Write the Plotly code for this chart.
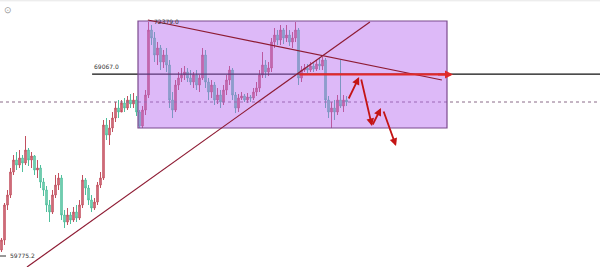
import plotly.graph_objects as go

# ---- data (prices) ----
opens = [60270, 60770, 62520, 63020, 64170, 64770, 64520, 64870, 64620, 65270,
         64770, 64970, 64270, 64370, 63670, 63270, 62520, 62170, 63020, 63520,
         63870, 62020, 61670, 62020, 61770, 62170, 61870, 62520, 63770, 63370,
         62770, 62370, 62670, 63520, 63870, 66520, 66020, 66370, 66870, 67370,
         67170, 67620, 67370, 67770, 67570, 67770, 67170, 66470, 67270, 68020,
         71270, 70870, 70020, 70370, 69670, 70020, 69520, 67770, 67270, 68520,
         68870, 69020, 69170, 68870, 68670, 69020, 68520, 68870, 70020, 68670,
         68170, 68520, 67770, 68020, 67670, 68270, 68770, 69270, 68020, 67370,
         67870, 67970, 67770, 67920, 67870, 68170, 68370, 69020, 69520, 69170,
         69370, 70670, 71020, 70770, 71270, 70870, 71020, 70670, 70870, 71270,
         68870, 69270, 69370, 69270, 69470, 69320, 69570, 69470, 69770, 67770,
         67170, 67370, 67170, 67770, 67470, 67770]
highs = [60870, 62620, 63270, 64370, 65020, 65170, 65270, 65020, 65970, 65370,
         65170, 65020, 64770, 64520, 63870, 63470, 62770, 63270, 64020, 64120,
         64020, 62270, 62370, 62170, 62420, 62520, 62770, 64020, 63870, 63520,
         63020, 62870, 63670, 64170, 66770, 66870, 66770, 67170, 67670, 67770,
         67770, 67870, 67970, 68070, 68120, 67970, 67270, 67470, 68270, 71670,
         71520, 71170, 70670, 70520, 70270, 70370, 69770, 68170, 68770, 69170,
         69370, 69470, 69370, 69270, 69170, 69270, 69020, 70370, 70270, 68870,
         68770, 68670, 68370, 68270, 68520, 69020, 69470, 69370, 68170, 68070,
         68170, 68070, 68120, 68020, 68370, 68670, 69270, 70170, 69770, 69670,
         70870, 71370, 71270, 71520, 71370, 71520, 71270, 71170, 71670, 71370,
         69470, 69570, 69570, 69670, 69620, 69770, 69870, 69920, 69870, 67970,
         67670, 67770, 68020, 69770, 68020, 67970]
lows = [60170, 60520, 62270, 62870, 64020, 64270, 64370, 64170, 64520, 64470,
        64370, 64020, 63870, 63370, 62970, 62170, 61670, 62070, 62870, 63270,
        61770, 61370, 61520, 61570, 61670, 61670, 61770, 62370, 63020, 62520,
        62170, 62270, 62520, 63370, 63770, 65770, 65520, 66170, 66670, 66870,
        67270, 67170, 67270, 67370, 67370, 66970, 66370, 66370, 67020, 67870,
        70520, 69670, 69520, 69270, 69370, 69170, 67370, 66870, 67170, 68270,
        68670, 68770, 68670, 68520, 68370, 68270, 68170, 68770, 68370, 67770,
        67870, 67520, 67570, 67370, 67520, 68020, 68520, 67770, 67120, 67170,
        67770, 67670, 67620, 67670, 67770, 67970, 68170, 68870, 68870, 68970,
        69170, 70370, 70520, 70520, 70570, 70670, 70470, 70370, 70670, 68520,
        68670, 69170, 69120, 69170, 69170, 69220, 69270, 69270, 67370, 66870,
        66370, 66770, 67020, 67370, 67170, 67470]
closes = [60770, 62520, 63020, 64170, 64770, 64520, 64870, 64620, 65270, 64770,
          64970, 64270, 64370, 63670, 63270, 62520, 62170, 63020, 63520, 63870,
          62020, 61670, 62020, 61770, 62170, 61870, 62520, 63770, 63370, 62770,
          62370, 62670, 63520, 63870, 66520, 66020, 66370, 66870, 67370, 67170,
          67620, 67370, 67770, 67570, 67770, 67170, 66470, 67270, 68020, 71270,
          70870, 70020, 70370, 69670, 70020, 69520, 67770, 67270, 68520, 68870,
          69020, 69170, 68870, 68670, 69020, 68520, 68870, 70020, 68670, 68170,
          68520, 67770, 68020, 67670, 68270, 68770, 69270, 68020, 67370, 67870,
          67970, 67770, 67920, 67870, 68170, 68370, 69020, 69520, 69170, 69370,
          70670, 71020, 70770, 71270, 70870, 71020, 70670, 70870, 71270, 68870,
          69270, 69370, 69270, 69470, 69320, 69570, 69470, 69770, 67770, 67170,
          67370, 67170, 67770, 67470, 67770, 67670]
idx = list(range(len(closes)))

# levels / drawings (in data units)
level_line = 69067.0
dotted_level = 67670
high_label = "72379.0"
low_label = "59775.2"
box_x = [45.5, 148.5]
box_y = [66370, 71720]
up_trend = [(8.5, 59420), (122.8, 71670)]
down_trend = [(48.8, 71770), (146.8, 68770)]
red_path = [[(115.5, 67770), (119.2, 68920)],
            [(119.8, 68870), (123.5, 66470)],
            [(123.5, 66470), (126.5, 67370)],
            [(127.2, 67270), (131.5, 65470)]]

fig = go.Figure()
fig.add_trace(go.Candlestick(
    x=idx, open=opens, high=highs, low=lows, close=closes,
    increasing=dict(line=dict(color="#c2505f", width=1), fillcolor="#d8848f"),
    decreasing=dict(line=dict(color="#4fbf9c", width=1), fillcolor="#8fd8c0"),
    whiskerwidth=0, showlegend=False, hoverinfo="skip"))

shapes = []
# dotted level
shapes.append(dict(type="line", xref="x", yref="y", x0=-0.5, x1=199.5,
                   y0=dotted_level, y1=dotted_level,
                   line=dict(color="#8a6a88", width=1, dash="dot"), layer="above"))
# black level line
shapes.append(dict(type="line", xref="x", yref="y", x0=30.2, x1=199.5,
                   y0=level_line, y1=level_line,
                   line=dict(color="#111111", width=1.3), layer="above"))
# purple box
shapes.append(dict(type="rect", xref="x", yref="y", x0=box_x[0], x1=box_x[1],
                   y0=box_y[0], y1=box_y[1],
                   fillcolor="rgba(180,100,240,0.45)",
                   line=dict(color="#7b4a8e", width=1.2), layer="above"))
# trend lines
for (a, b) in (up_trend, down_trend):
    shapes.append(dict(type="line", xref="x", yref="y", x0=a[0], y0=a[1],
                       x1=b[0], y1=b[1],
                       line=dict(color="#8e1b33", width=1.2), layer="above"))
# red thick level
shapes.append(dict(type="line", xref="x", yref="y", x0=99.3, x1=148.5,
                   y0=level_line - 20, y1=level_line - 20,
                   line=dict(color="#e02a2a", width=2.2), layer="above"))
# top border
shapes.append(dict(type="line", xref="paper", yref="paper", x0=0, x1=1,
                   y0=0.997, y1=0.997, line=dict(color="#e6e6e6", width=1)))
# small tick near low label
shapes.append(dict(type="line", xref="x", yref="y", x0=-0.5, x1=1.5,
                   y0=59970, y1=59970, line=dict(color="#333", width=1)))

annotations = []
annotations.append(dict(x=30.2, y=level_line, xref="x", yref="y", text="69067.0",
                        showarrow=False, xanchor="left", yanchor="bottom", yshift=2,
                        font=dict(size=6, color="#333", family="DejaVu Sans")))
annotations.append(dict(x=50.0, y=71720, xref="x", yref="y", text=high_label,
                        showarrow=False, xanchor="left", yanchor="middle",
                        font=dict(size=6, color="#333", family="DejaVu Sans")))
annotations.append(dict(x=2.0, y=59970, xref="x", yref="y", text=low_label,
                        showarrow=False, xanchor="left", yanchor="middle", yshift=1,
                        font=dict(size=6, color="#333", family="DejaVu Sans")))
# arrow on red level
annotations.append(dict(x=150.5, y=level_line - 20, ax=145.0, ay=level_line - 20,
                        xref="x", yref="y", axref="x", ayref="y", text="",
                        showarrow=True, arrowhead=2, arrowsize=0.8, arrowwidth=2,
                        arrowcolor="#e02a2a"))
for seg in red_path:
    (x0, y0), (x1, y1) = seg
    annotations.append(dict(x=x1, y=y1, ax=x0, ay=y0, xref="x", yref="y",
                            axref="x", ayref="y", text="", showarrow=True,
                            arrowhead=2, arrowsize=0.85, arrowwidth=1.8,
                            arrowcolor="#c41414"))
annotations.append(dict(x=0.004, y=0.995, xref="paper", yref="paper", text="⊙",
                        showarrow=False, xanchor="left", yanchor="top",
                        font=dict(size=9, color="#999")))

fig.update_layout(
    width=600, height=267, margin=dict(l=0, r=0, t=0, b=0),
    paper_bgcolor="white", plot_bgcolor="white",
    xaxis=dict(range=[-0.5, 199.5], visible=False, rangeslider=dict(visible=False),
               fixedrange=True),
    yaxis=dict(range=[59420, 72770], visible=False, fixedrange=True),
    shapes=shapes, annotations=annotations, showlegend=False, hovermode=False)

fig.write_html("out.html", config={"displayModeBar": False})
